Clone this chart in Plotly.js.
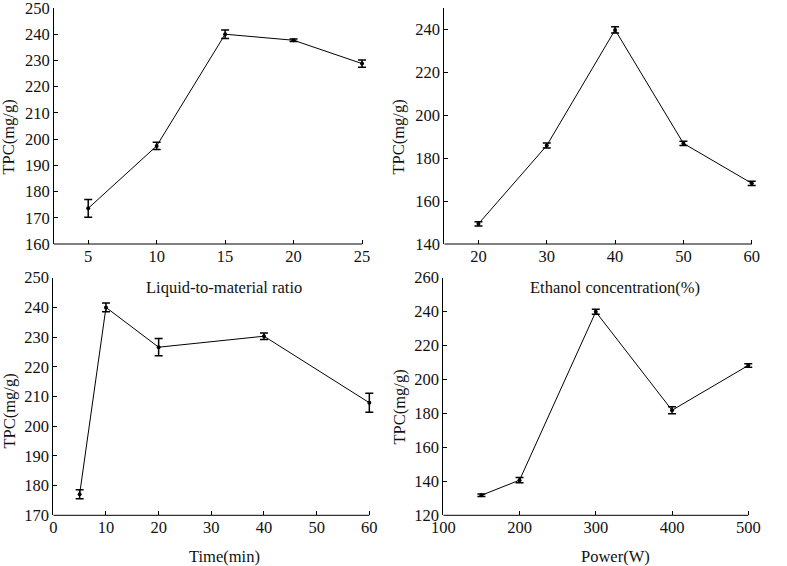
<!DOCTYPE html>
<html>
<head>
<meta charset="utf-8">
<script src="https://cdn.plot.ly/plotly-3.0.1.min.js"></script>
<style>html,body{margin:0;padding:0;background:#fff;}#chart{width:787px;height:566px;}</style>
</head>
<body>
<div id="chart"></div>
<script>
// Panel 1: Liquid-to-material ratio
var ratioX = [5, 10, 15, 20, 25];
var ratioY = [173.6, 197.4, 240.0, 237.7, 228.8];
var ratioErr = [3.4, 1.4, 1.6, 0.5, 1.4];
// Panel 2: Ethanol concentration (%)
var ethanolX = [20, 30, 40, 50, 60];
var ethanolY = [149.4, 185.9, 239.8, 186.9, 168.3];
var ethanolErr = [1.0, 1.2, 1.5, 1.0, 1.0];
// Panel 3: Time (min)
var timeX = [5, 10, 20, 40, 60];
var timeY = [177.1, 240.0, 226.6, 230.3, 207.9];
var timeErr = [1.5, 1.5, 2.9, 1.1, 3.2];
// Panel 4: Power (W)
var powerX = [150, 200, 300, 400, 500];
var powerY = [131.8, 140.7, 239.9, 181.9, 208.3];
var powerErr = [0.7, 1.5, 1.5, 2.0, 1.0];

// Axis extents (where the drawn x-axis lines start and end)
var xAxisEnds = [[2.5, 25], [15, 60], [0, 60], [100, 500]];

var xTitles = ['Liquid-to-material ratio', 'Ethanol concentration(%)', 'Time(min)', 'Power(W)'];
var yTitle = 'TPC(mg/g)';

var FONT = 'Liberation Serif, Times New Roman, serif';
var FS = 16.5;

function trace(x, y, e, xa, ya) {
  return {
    x: x, y: y, xaxis: xa, yaxis: ya,
    type: 'scatter', mode: 'lines+markers', cliponaxis: false,
    line: {color: '#000', width: 1},
    marker: {color: '#000', size: 4},
    error_y: {type: 'data', array: e, visible: true, color: '#000', thickness: 1.5, width: 4},
    showlegend: false, hoverinfo: 'none'
  };
}

var data = [
  trace(ratioX, ratioY, ratioErr, 'x', 'y'),
  trace(ethanolX, ethanolY, ethanolErr, 'x2', 'y2'),
  trace(timeX, timeY, timeErr, 'x3', 'y3'),
  trace(powerX, powerY, powerErr, 'x4', 'y4')
];

function ax(domain, range, tickvals, anchor, line) {
  return {
    domain: domain, range: range, tickvals: tickvals, anchor: anchor,
    showline: line, linecolor: '#000', linewidth: 1, mirror: false,
    ticks: 'inside', ticklen: 4, tickwidth: 1, tickcolor: '#000',
    showgrid: false, zeroline: false, ticklabeloverflow: 'allow',
    tickfont: {family: FONT, size: FS, color: '#111'}
  };
}

var topY = [1 - 244/566, 1 - 8/566];
var botY = [1 - 515.3/566, 1 - 277.7/566];

function ann(text, x, y, rot) {
  return {text: text, x: x/787, y: 1 - y/566, xref: 'paper', yref: 'paper', showarrow: false,
          textangle: rot || 0, xanchor: 'center', yanchor: 'middle',
          font: {family: FONT, size: FS, color: '#111'}};
}

function axisLine(i, xa, ya) {
  return {type: 'line', xref: xa, yref: ya + ' domain', x0: xAxisEnds[i][0], x1: xAxisEnds[i][1],
          y0: 0, y1: 0, line: {color: '#000', width: 1}, layer: 'above'};
}

var layout = {
  width: 787, height: 566,
  margin: {l: 0, r: 0, t: 0, b: 0},
  paper_bgcolor: '#fff', plot_bgcolor: '#fff',
  xaxis: ax([54/787, 367.5/787], [2.5, 25.4], [5, 10, 15, 20, 25], 'y', false),
  yaxis: ax(topY, [160, 250], [160, 170, 180, 190, 200, 210, 220, 230, 240, 250], 'x', true),
  xaxis2: ax([444.3/787, 757.2/787], [15, 60.8], [20, 30, 40, 50, 60], 'y2', false),
  yaxis2: ax(topY, [140, 250], [140, 160, 180, 200, 220, 240], 'x2', true),
  xaxis3: ax([53.3/787, 374.6/787], [0, 61], [0, 10, 20, 30, 40, 50, 60], 'y3', false),
  yaxis3: ax(botY, [170, 250], [170, 180, 190, 200, 210, 220, 230, 240, 250], 'x3', true),
  xaxis4: ax([443.3/787, 753.6/787], [100, 507], [100, 200, 300, 400, 500], 'y4', false),
  yaxis4: ax(botY, [120, 260], [120, 140, 160, 180, 200, 220, 240, 260], 'x4', true),
  shapes: [
    axisLine(0, 'x', 'y'),
    axisLine(1, 'x2', 'y2'),
    axisLine(2, 'x3', 'y3'),
    axisLine(3, 'x4', 'y4')
  ],
  annotations: [
    ann(xTitles[0], 224, 287),
    ann(xTitles[1], 615, 287),
    ann(xTitles[2], 225, 556),
    ann(xTitles[3], 615, 556),
    ann(yTitle, 8.5, 137, -90),
    ann(yTitle, 398.5, 137, -90),
    ann(yTitle, 8.5, 411, -90),
    ann(yTitle, 398.5, 407, -90)
  ]
};

Plotly.newPlot('chart', data, layout, {staticPlot: true, displayModeBar: false});
</script>
</body>
</html>
